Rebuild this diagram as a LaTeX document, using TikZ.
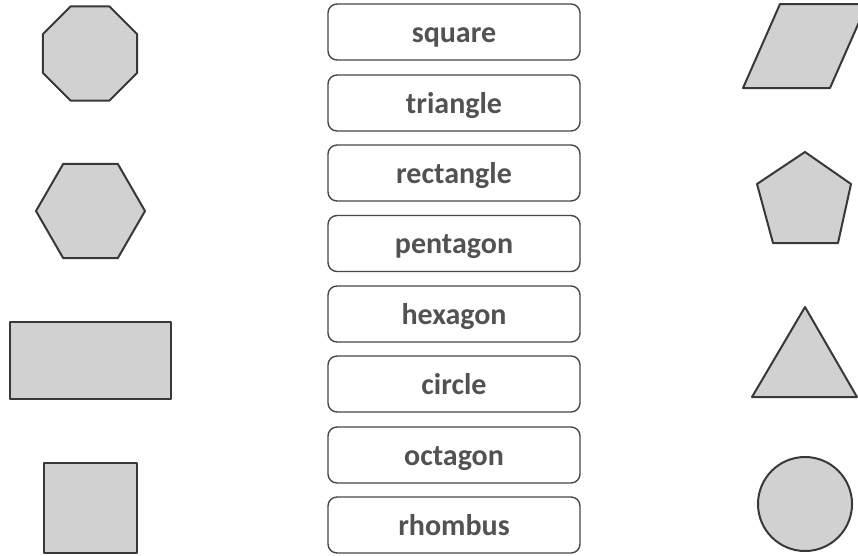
\documentclass[tikz,border=0pt]{standalone}
\usepackage{fontspec}
\setmainfont{Carlito}
\begin{document}
\begin{tikzpicture}[x=1pt,y=-1pt,
  shp/.style={draw=black!78,fill=black!18,line width=2pt,line join=round},
  lbl/.style={draw=black!72,line width=1.4pt,rounded corners=9pt,minimum width=252pt,minimum height=56pt,
    inner sep=0pt,text height=20pt,text depth=0pt,text=black!68,font=\fontsize{30}{32}\selectfont\bfseries}]
\useasboundingbox (0,0) rectangle (858,555);
\clip (0,0) rectangle (858,555);
% labels
\node[lbl] (l1) at (454,32) {square};
\node[lbl] (l2) at (454,103) {triangle};
\node[lbl] (l3) at (454,173) {rectangle};
\node[lbl] (l4) at (454,243.5) {pentagon};
\node[lbl] (l5) at (454,314) {hexagon};
\node[lbl] (l6) at (454,384) {circle};
\node[lbl] (l7) at (454,455) {octagon};
\node[lbl] (l8) at (454,525) {rhombus};
% octagon
\begin{scope}[shift={(90,53.5)}]
\draw[shp] (22.5:50.9) -- (67.5:50.9) -- (112.5:50.9) -- (157.5:50.9) -- (202.5:50.9)
  -- (247.5:50.9) -- (292.5:50.9) -- (337.5:50.9) -- cycle;
\end{scope}
% hexagon
\begin{scope}[shift={(90.5,211)}]
\draw[shp] (0:54.5) -- (60:54.5) -- (120:54.5) -- (180:54.5) -- (240:54.5) -- (300:54.5) -- cycle;
\end{scope}
% rectangle
\draw[shp] (10,322) rectangle (171,399);
% square
\draw[shp] (44,463) rectangle (137,553);
% rhombus (parallelogram)
\draw[shp] (780,4) -- (867,4) -- (830,88) -- (743,88) -- cycle;
% pentagon
\draw[shp] (805,152) -- (851,184) -- (838,243) -- (773,243) -- (757,184) -- cycle;
% triangle
\draw[shp] (805,307) -- (857,397) -- (752,397) -- cycle;
% circle
\draw[shp] (805,504) circle (47);
\end{tikzpicture}
\end{document}
